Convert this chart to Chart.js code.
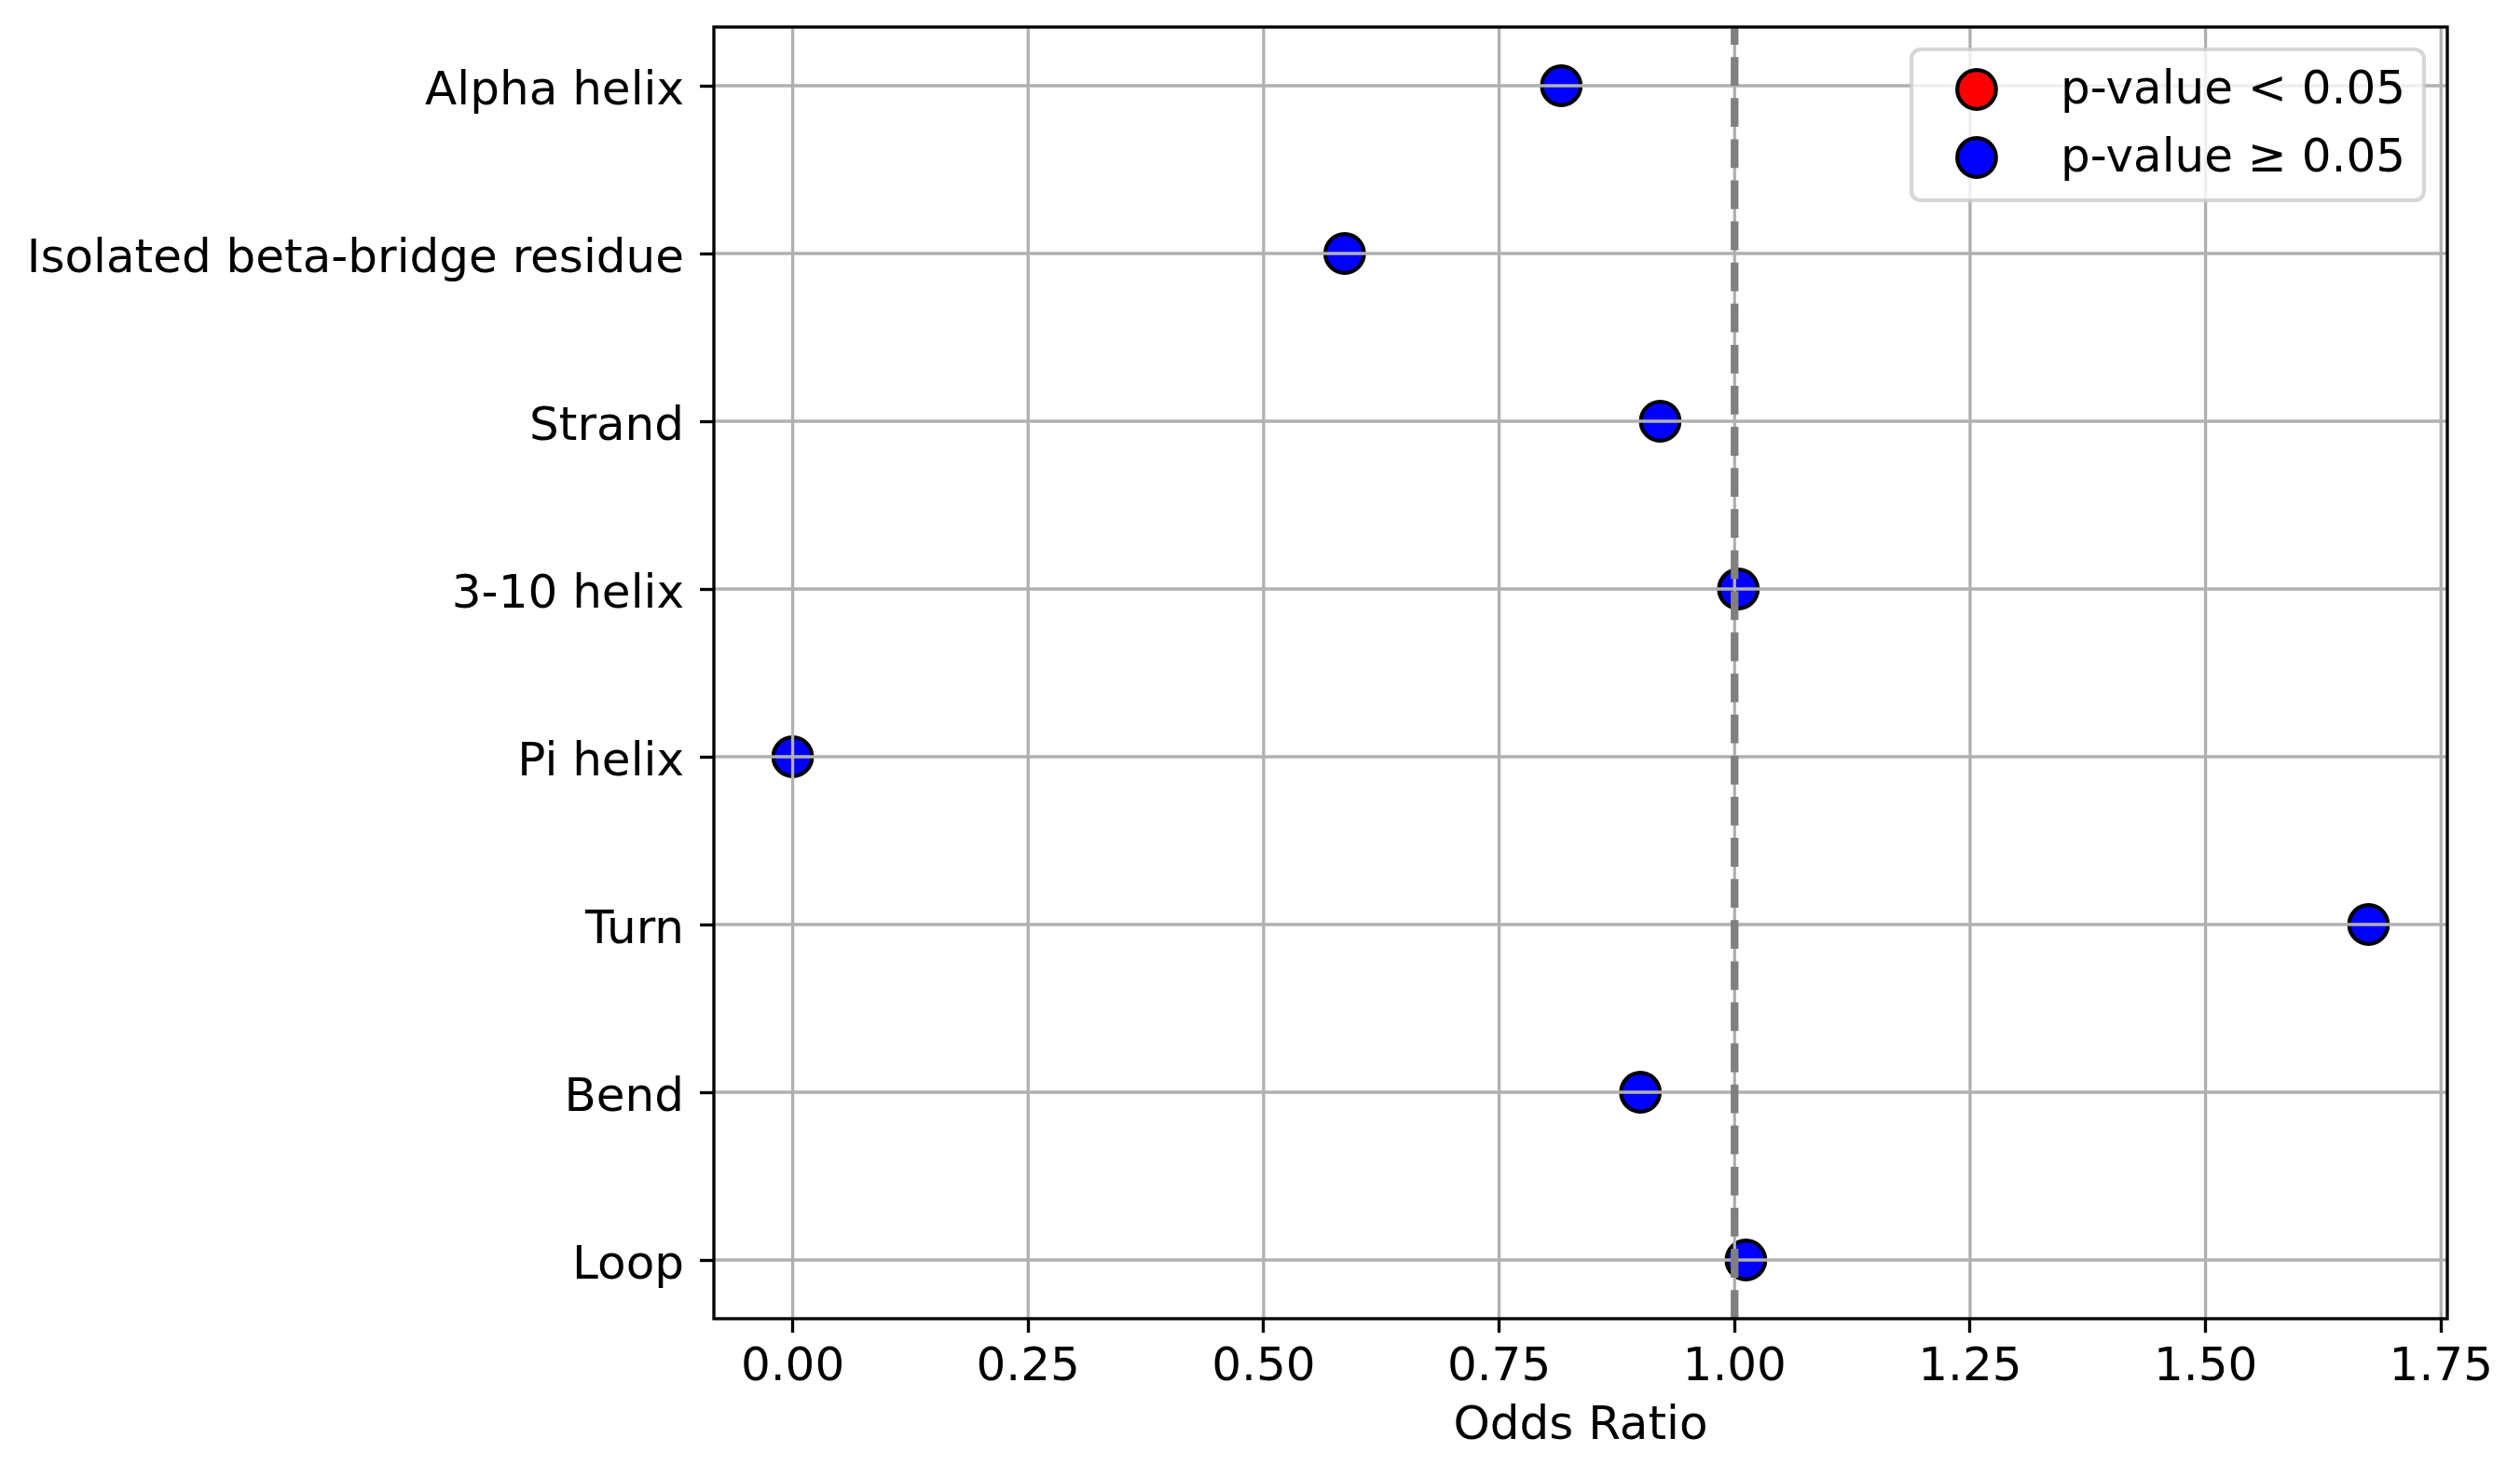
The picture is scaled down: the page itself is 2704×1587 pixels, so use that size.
<!DOCTYPE html>
<html>
<head>
<meta charset="utf-8">
<style>
  html, body { margin: 0; padding: 0; background: #fff; }
  #wrap { width: 2704px; height: 1587px; }
</style>
<script src="https://cdn.jsdelivr.net/npm/chart.js@4.4.1/dist/chart.umd.min.js"></script>
</head>
<body>
<div id="wrap"><canvas id="myChart" width="2704" height="1587"></canvas></div>
<script>
// categories, top to bottom
var categories = ['Alpha helix', 'Isolated beta-bridge residue', 'Strand', '3-10 helix',
                  'Pi helix', 'Turn', 'Bend', 'Loop'];
var oddsRatios = [0.816, 0.586, 0.921, 1.004, 0.0, 1.673, 0.900, 1.012];
var significant = [false, false, false, false, false, false, false, false];
var xTicks = [0, 0.25, 0.5, 0.75, 1.0, 1.25, 1.5, 1.75];
var legendLabels = ['p-value < 0.05', 'p-value \u2265 0.05'];
var refLine = 1.0;

Chart.defaults.font.family = '"DejaVu Sans", sans-serif';
Chart.defaults.font.size = 50;
Chart.defaults.color = '#000';

var sigPts = [], nsPts = [];
oddsRatios.forEach(function (v, i) {
    (significant[i] ? sigPts : nsPts).push({ x: v, y: i });
});

// matplotlib-like 5% margins
var dMin = Math.min.apply(null, oddsRatios), dMax = Math.max.apply(null, oddsRatios);
var pad = (dMax - dMin) * 0.05;

var S = 3.33; // 0.8pt at 300 dpi

var overlay = {
    id: 'overlay',
    afterDatasetsDraw: function (chart) {
        var ctx = chart.ctx, a = chart.chartArea;
        var xs = chart.scales.x, ys = chart.scales.y;
        ctx.save();
        ctx.beginPath();
        ctx.rect(a.left, a.top, a.right - a.left, a.bottom - a.top);
        ctx.clip();
        // grid on top of markers, like the original
        ctx.strokeStyle = '#b0b0b0';
        ctx.lineWidth = S;
        xs.ticks.forEach(function (t) {
            var px = xs.getPixelForValue(t.value);
            ctx.beginPath(); ctx.moveTo(px, a.top); ctx.lineTo(px, a.bottom); ctx.stroke();
        });
        ys.ticks.forEach(function (t) {
            var py = ys.getPixelForValue(t.value);
            ctx.beginPath(); ctx.moveTo(a.left, py); ctx.lineTo(a.right, py); ctx.stroke();
        });
        // reference line at OR = 1
        var rx = xs.getPixelForValue(refLine);
        ctx.strokeStyle = '#808080';
        ctx.lineWidth = 8.33;
        ctx.setLineDash([30.8, 13.3]);
        ctx.beginPath(); ctx.moveTo(rx, a.bottom); ctx.lineTo(rx, a.top); ctx.stroke();
        ctx.restore();
        // spines
        ctx.save();
        ctx.strokeStyle = '#000';
        ctx.lineWidth = S;
        ctx.strokeRect(a.left, a.top, a.right - a.left, a.bottom - a.top);
        ctx.restore();
    },
    afterDraw: function (chart) {
        var ctx = chart.ctx, a = chart.chartArea;
        ctx.save();
        ctx.font = '50px "DejaVu Sans"';
        var tw = Math.max.apply(null, legendLabels.map(function (l) { return ctx.measureText(l).width; }));
        var w = 20 + 100 + 40 + tw + 20, h = 162;
        var right = a.right - 25, top = a.top + 24, left = right - w;
        ctx.beginPath();
        ctx.roundRect(left, top, w, h, 10);
        ctx.fillStyle = 'rgba(255,255,255,0.8)';
        ctx.fill();
        ctx.strokeStyle = 'rgba(204,204,204,0.8)';
        ctx.lineWidth = 4.17;
        ctx.stroke();
        chart.data.datasets.forEach(function (ds, i) {
            var cy = top + 43 + i * 73;
            ctx.beginPath();
            ctx.arc(left + 70, cy, 20.8, 0, Math.PI * 2);
            ctx.fillStyle = ds.backgroundColor;
            ctx.fill();
            ctx.strokeStyle = ds.borderColor;
            ctx.lineWidth = 4.2;
            ctx.stroke();
            ctx.fillStyle = '#000';
            ctx.textAlign = 'left';
            ctx.textBaseline = 'middle';
            ctx.fillText(ds.label, left + 160, cy + 2);
        });
        ctx.restore();
    }
};

var myChart = new Chart(document.getElementById('myChart').getContext('2d'), {
    type: 'scatter',
    data: {
        datasets: [{
            label: legendLabels[0],
            data: sigPts,
            backgroundColor: '#ff0000',
            borderColor: '#000000',
            borderWidth: 4.2,
            pointRadius: 20.8,
            pointHoverRadius: 20.8
        }, {
            label: legendLabels[1],
            data: nsPts,
            backgroundColor: '#0000ff',
            borderColor: '#000000',
            borderWidth: 4.2,
            pointRadius: 20.8,
            pointHoverRadius: 20.8
        }]
    },
    options: {
        responsive: false,
        animation: false,
        layout: { padding: { left: 0, top: 0, right: 78, bottom: 0 } },
        plugins: { legend: { display: false }, tooltip: { enabled: false } },
        scales: {
            x: {
                type: 'linear',
                min: dMin - pad,
                max: dMax + pad,
                afterBuildTicks: function (scale) {
                    scale.ticks = xTicks.map(function (v) { return { value: v }; });
                },
                afterFit: function (scale) { scale.height = 172; },
                ticks: {
                    padding: 8,
                    callback: function (v) { return v.toFixed(2); }
                },
                grid: { drawOnChartArea: false, drawTicks: true, tickLength: 15, tickWidth: S, tickColor: '#000' },
                border: { display: false },
                title: { display: true, text: 'Odds Ratio', padding: { top: 0, bottom: 26 } }
            },
            y: {
                type: 'linear',
                reverse: true,
                min: -0.35,
                max: categories.length - 1 + 0.35,
                afterBuildTicks: function (scale) {
                    scale.ticks = categories.map(function (c, i) { return { value: i }; });
                },
                afterFit: function (scale) {
                    scale.width = 766;
                    scale.paddingTop = 29;
                    scale.paddingBottom = 0;
                },
                ticks: {
                    padding: 17,
                    labelOffset: 7,
                    callback: function (v) { return categories[v]; }
                },
                grid: { drawOnChartArea: false, drawTicks: true, tickLength: 15, tickWidth: S, tickColor: '#000' },
                border: { display: false }
            }
        }
    },
    plugins: [overlay]
});
</script>
</body>
</html>
